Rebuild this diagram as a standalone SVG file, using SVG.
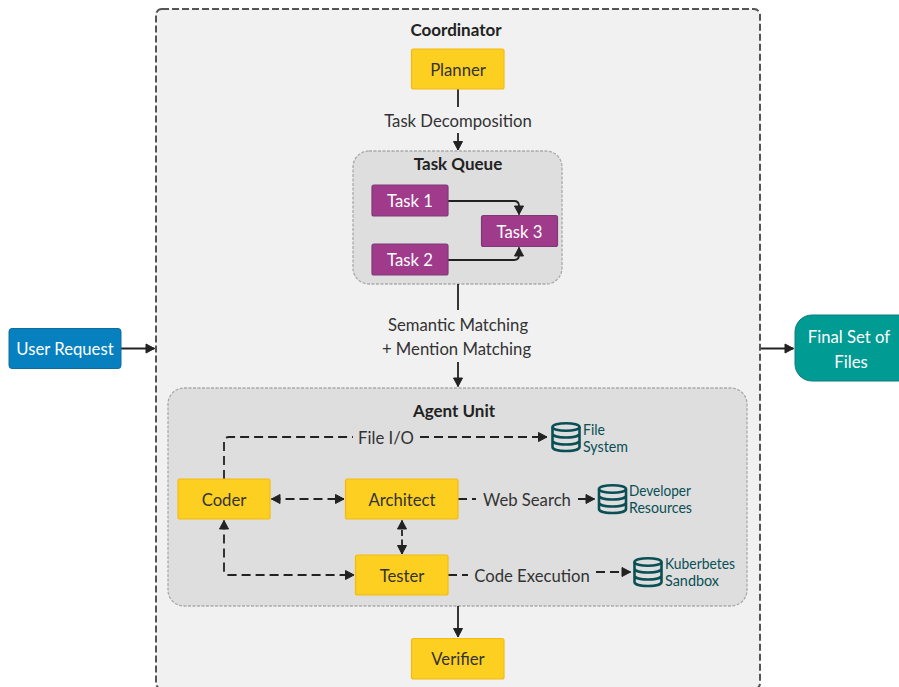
<svg xmlns="http://www.w3.org/2000/svg" width="899" height="687" viewBox="0 0 899 687">
<style>
text{font-family:"Lato","Noto Sans","Liberation Sans",sans-serif;text-anchor:middle;fill:#333}
.lbl{font-size:16.700px}
.title{font-size:17px;font-weight:700;fill:#222}
.yellow{fill:#fccf21;stroke:#f5b90f;stroke-width:1.2}
.task{fill:#a03a8a;stroke:#7d3a76;stroke-width:1.2}
.white{fill:#fff}
.group{fill:#dedede;stroke:#aaa;stroke-width:1.3;stroke-dasharray:3 1.5}
.c{fill:none;stroke:#222;stroke-width:1.8}
.d{stroke-dasharray:9 5}
.res{font-size:15px;fill:#0a4f55;text-anchor:start}
</style>
<defs>
<marker id="a" markerUnits="userSpaceOnUse" markerWidth="13" markerHeight="13" refX="10" refY="6" orient="auto-start-reverse"><path d="M1.500 1.500L10 6L1.500 10.500Z" fill="#222" stroke="#222" stroke-linejoin="round"/></marker>
<g id="db" fill="none" stroke="#0a4f55" stroke-width="2.6">
<ellipse cx="15" cy="5" rx="13.500" ry="3.800"/>
<path d="M1.500 5V25C1.500 27.500 7.500 29 15 29S28.500 27.500 28.500 25V5M1.500 11.500C1.500 14 7.500 15.500 15 15.500S28.500 14 28.500 11.500M1.500 18.500C1.500 21 7.500 22.500 15 22.500S28.500 21 28.500 18.500"/>
</g>
</defs>
<rect width="899" height="687" fill="#fff"/>
<g id="coordinator"><rect x="156" y="9" width="604" height="680" rx="6" fill="#f1f1f1" stroke="#555" stroke-width="2" stroke-dasharray="7 3"/><text class="title" x="456" y="36">Coordinator</text></g>
<g id="task-queue"><rect class="group" x="353" y="151" width="209" height="133" rx="16"/><text class="title" x="458" y="170">Task Queue</text></g>
<g id="agent-unit"><rect class="group" x="168" y="388" width="579" height="218" rx="16"/><text class="title" x="454" y="417">Agent Unit</text></g>
<g id="connectors">
<path class="c" d="M458 89V107"/><path class="c" d="M458 133V150" marker-end="url(#a)"/>
<path class="c" d="M448 201H514Q519 201 519 206V214.500" marker-end="url(#a)"/>
<path class="c" d="M448 260H514Q519 260 519 255V247.500" marker-end="url(#a)"/>
<path class="c" d="M458 284V310"/><path class="c" d="M458 362V386.500" marker-end="url(#a)"/>
<path class="c" d="M121 348.500H154.500" marker-end="url(#a)"/>
<path class="c" d="M761 348.500H793.500" marker-end="url(#a)"/>
<path class="c" d="M458 606V637" marker-end="url(#a)"/>
<path class="c d" d="M224 479V442Q224 437 229 437H353"/><path class="c d" d="M420 437H547" marker-end="url(#a)"/>
<path class="c d" d="M271.500 499H344" marker-start="url(#a)" marker-end="url(#a)"/>
<path class="c d" d="M224 520.500V570Q224 575 229 575H354" marker-start="url(#a)" marker-end="url(#a)"/>
<path class="c" stroke-dasharray="6 3.500" d="M402 520.500V554" marker-start="url(#a)" marker-end="url(#a)"/>
<path class="c d" d="M458 499H476"/><path class="c d" d="M578 499H594.500" marker-end="url(#a)"/>
<path class="c d" d="M448 575H468"/><path class="c d" d="M596 572H630.500" marker-end="url(#a)"/>
<g class="edge-labels">
<text class="lbl" x="458" y="127">Task Decomposition</text>
<text class="lbl" x="458" y="331">Semantic Matching</text>
<text class="lbl" x="456.500" y="355">+ Mention Matching</text>
<text class="lbl" x="386" y="444">File I/O</text>
<text class="lbl" x="527" y="506">Web Search</text>
<text class="lbl" x="532" y="582">Code Execution</text>
</g>
</g>
<g id="planner"><rect class="yellow" x="411.500" y="49" width="92.500" height="40" rx="2"/><text class="lbl" x="458" y="76">Planner</text></g>
<g id="task1"><rect class="task" x="372" y="185" width="76" height="31" rx="2"/><text class="lbl white" x="410" y="207">Task 1</text></g>
<g id="task2"><rect class="task" x="372" y="244" width="76" height="31" rx="2"/><text class="lbl white" x="410" y="266">Task 2</text></g>
<g id="task3"><rect class="task" x="481.500" y="215.500" width="76" height="31" rx="2"/><text class="lbl white" x="519.500" y="238">Task 3</text></g>
<g id="coder"><rect class="yellow" x="178" y="479" width="92" height="40" rx="2"/><text class="lbl" x="224" y="506">Coder</text></g>
<g id="architect"><rect class="yellow" x="345.500" y="479" width="112.500" height="40" rx="2"/><text class="lbl" x="402" y="506">Architect</text></g>
<g id="tester"><rect class="yellow" x="355.500" y="555" width="92.500" height="40" rx="2"/><text class="lbl" x="402" y="582">Tester</text></g>
<g id="verifier"><rect class="yellow" x="411.500" y="638.500" width="92.500" height="40.500" rx="2"/><text class="lbl" x="458" y="665">Verifier</text></g>
<g id="user-request"><rect x="9" y="328.500" width="112" height="40" rx="3" fill="#0780c0" stroke="#0f6ca0"/><text class="lbl white" x="65" y="355">User Request</text></g>
<g id="final-files"><rect x="795" y="315" width="120" height="66" rx="17" fill="#009c94" stroke="#0f7a80"/><text class="lbl white" x="849" y="343">Final Set of</text><text class="lbl white" x="851" y="368">Files</text></g>
<g id="file-system"><use href="#db" x="551" y="422"/><text class="res" x="583" y="435" textLength="22" lengthAdjust="spacingAndGlyphs">File</text><text class="res" x="583" y="452" textLength="45" lengthAdjust="spacingAndGlyphs">System</text></g>
<g id="developer-resources"><use href="#db" x="597.500" y="484"/><text class="res" x="629" y="496" textLength="62" lengthAdjust="spacingAndGlyphs">Developer</text><text class="res" x="629" y="513" textLength="63" lengthAdjust="spacingAndGlyphs">Resources</text></g>
<g id="kubernetes-sandbox"><use href="#db" x="633" y="557"/><text class="res" x="665" y="569" textLength="70" lengthAdjust="spacingAndGlyphs">Kuberbetes</text><text class="res" x="665" y="586" textLength="54" lengthAdjust="spacingAndGlyphs">Sandbox</text></g>
</svg>
